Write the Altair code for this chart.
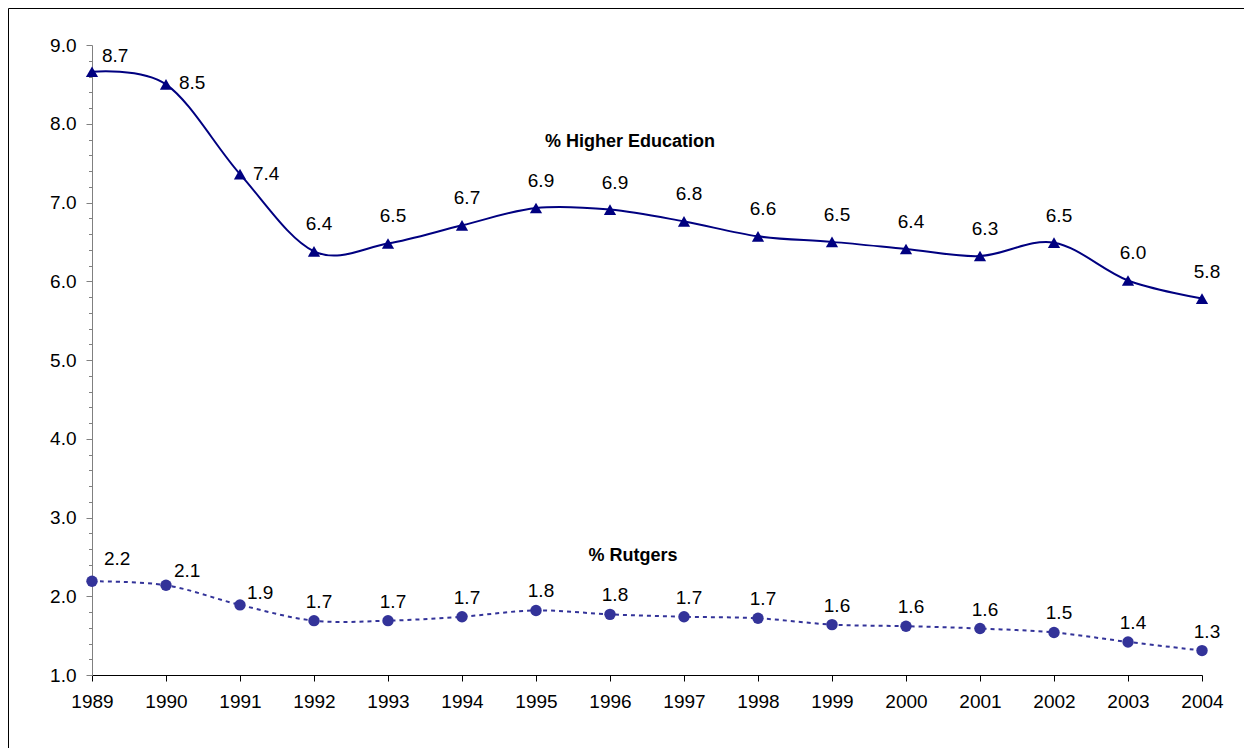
import altair as alt
import pandas as pd

years = [1989, 1990, 1991, 1992, 1993, 1994, 1995, 1996,
         1997, 1998, 1999, 2000, 2001, 2002, 2003, 2004]
higher_ed = [8.66, 8.50, 7.36, 6.38, 6.48, 6.71, 6.93, 6.91,
             6.76, 6.57, 6.50, 6.41, 6.32, 6.49, 6.01, 5.78]
rutgers = [2.19, 2.14, 1.89, 1.69, 1.69, 1.74, 1.82, 1.77,
           1.74, 1.72, 1.64, 1.62, 1.59, 1.54, 1.42, 1.31]
series_names = ["% Higher Education", "% Rutgers"]
y_tick_values = [1.0, 1.2, 1.4, 1.6, 1.8, 2.0, 2.2, 2.4, 2.6, 2.8,
                 3.0, 3.2, 3.4, 3.6, 3.8, 4.0, 4.2, 4.4, 4.6, 4.8,
                 5.0, 5.2, 5.4, 5.6, 5.8, 6.0, 6.2, 6.4, 6.6, 6.8,
                 7.0, 7.2, 7.4, 7.6, 7.8, 8.0, 8.2, 8.4, 8.6, 8.8, 9.0]

rows = []
for y, v in zip(years, higher_ed):
    rows.append({"year": y, "value": v, "series": series_names[0]})
for y, v in zip(years, rutgers):
    rows.append({"year": y, "value": v, "series": series_names[1]})
df = pd.DataFrame(rows)

FONT = "Liberation Sans"
NAVY = "#000080"
INDIGO = "#333399"
FS = 19

is_major = "abs(datum.value - round(datum.value)) < 0.01"

x_enc = alt.X(
    "year:Q",
    scale=alt.Scale(domain=[1989, 2004], nice=False, zero=False),
    axis=alt.Axis(
        values=years, format="d", title=None, grid=False,
        domainColor="#000000", tickColor="#000000", tickSize=6,
        labelFont=FONT, labelFontSize=FS, labelColor="#000000",
        labelPadding=11, labelOverlap=False, labelFlush=False,
    ),
)
y_enc = alt.Y(
    "value:Q",
    scale=alt.Scale(domain=[1, 9], nice=False, zero=False),
    axis=alt.Axis(
        values=y_tick_values, title=None, grid=False,
        labelExpr=is_major + " ? format(datum.value, '.1f') : ''",
        domainColor="#808080", tickColor="#808080",
        tickSize={"condition": {"test": is_major, "value": 6}, "value": 3.5},
        labelFont=FONT, labelFontSize=FS, labelColor="#000000",
        labelPadding=10, labelOverlap=False, labelFlush=False,
    ),
)

base = alt.Chart(df)
he = base.transform_filter(alt.datum.series == series_names[0])
ru = base.transform_filter(alt.datum.series == series_names[1])

he_line = he.mark_line(interpolate="cardinal", color=NAVY, strokeWidth=2).encode(x=x_enc, y=y_enc)
he_pts = he.mark_point(shape="triangle-up", filled=True, opacity=1, size=150,
                       color=NAVY).encode(x=x_enc, y=y_enc)
ru_line = ru.mark_line(interpolate="cardinal", color=INDIGO, strokeWidth=2,
                       strokeDash=[4, 4]).encode(x=x_enc, y=y_enc)
ru_pts = ru.mark_point(shape="circle", filled=True, opacity=1, size=130,
                       color=INDIGO).encode(x=x_enc, y=y_enc)


def labels(src, cond, align, dx, dy):
    return src.transform_filter(cond).mark_text(
        font=FONT, fontSize=FS, color="#000000", align=align,
        baseline="middle", dx=dx, dy=dy,
    ).encode(x=x_enc, y=y_enc, text=alt.Text("value:Q", format=".1f"))


he_lab = [
    labels(he, alt.datum.year == 1989, "left", 10, -16),
    labels(he, alt.datum.year == 1990, "left", 13, -1),
    labels(he, alt.datum.year == 1991, "left", 13, 0),
    labels(he, alt.datum.year >= 1992, "center", 5, -27),
]
ru_lab = [
    labels(ru, alt.datum.year == 1989, "left", 12, -22),
    labels(ru, alt.datum.year == 1990, "left", 8, -14),
    labels(ru, alt.datum.year == 1991, "left", 7, -12),
    labels(ru, alt.datum.year >= 1992, "center", 5, -19),
]

title_data = alt.Data(values=[{"name": series_names[0]}])
title_data2 = alt.Data(values=[{"name": series_names[1]}])
he_title = alt.Chart(title_data).mark_text(
    font=FONT, fontSize=18, fontWeight="bold", color="#000000",
    align="center", baseline="middle",
).encode(x=alt.value(538), y=alt.value(97), text="name:N")
ru_title = alt.Chart(title_data2).mark_text(
    font=FONT, fontSize=18, fontWeight="bold", color="#000000",
    align="center", baseline="middle",
).encode(x=alt.value(541), y=alt.value(511), text="name:N")

border = alt.Chart(alt.Data(values=[{}])).mark_rect(
    filled=False, stroke="#000000", strokeWidth=1, fill=None,
).encode(x=alt.value(-83.5), x2=alt.value(1300), y=alt.value(-36.5), y2=alt.value(900))

chart = alt.layer(
    border, he_line, ru_line, he_pts, ru_pts, *he_lab, *ru_lab, he_title, ru_title
).properties(
    width=1110, height=630,
    padding={"left": 84, "top": 37, "right": 42, "bottom": 73},
    autosize=alt.AutoSizeParams(type="none"),
    background="#ffffff",
).configure_view(stroke=None)

chart.save("out.html", embed_options={"renderer": "svg", "actions": False})
